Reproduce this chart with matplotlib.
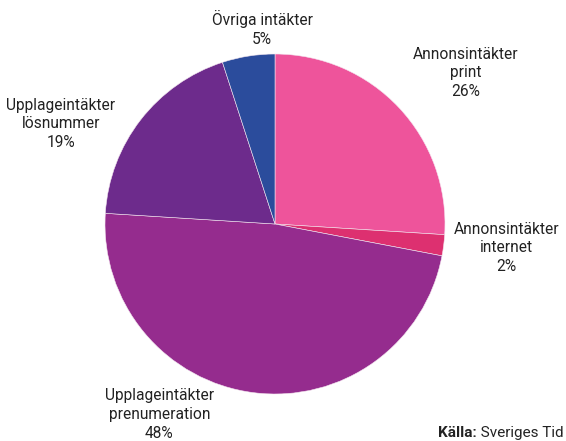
import matplotlib
matplotlib.use('Agg')
import matplotlib.pyplot as plt

# ---------------------- Data

labels = ['Annonsintäkter\nprint', 'Annonsintäkter\ninternet', 'Upplageintäkter\nprenumeration',
          'Upplageintäkter\nlösnummer', 'Övriga intäkter']
shares = [26, 2, 48, 19, 5]
colors = ['#EE549B', '#DD3070', '#952C8E', '#6D2B8C', '#2B4C9C']
source_bold = 'Källa:'
source_rest = ' Sveriges Tid'

# label positions in pie units (radius 1)
label_pos = [(1.12, 0.89), (1.36, -0.14), (-0.68, -1.12), (-1.26, 0.59), (-0.076, 1.15)]

plt.rcParams['font.family'] = ['Roboto', 'DejaVu Sans']

W, H = 566, 441
fig = plt.figure(figsize=(W/100, H/100), dpi=100)
cx, cy, r = 275, 224, 170
ax = fig.add_axes([(cx - r)/W, (H - cy - r)/H, 2*r/W, 2*r/H])

ax.pie(shares, colors=colors, startangle=90, counterclock=False, radius=1,
       wedgeprops=dict(edgecolor='#f4e6f0', linewidth=0.4))
ax.set_xlim(-1, 1)
ax.set_ylim(-1, 1)
ax.set_aspect('equal')
ax.axis('off')

for lab, val, (x, y) in zip(labels, shares, label_pos):
    ax.text(x, y, lab + '\n' + str(val) + '%', ha='center', va='center',
            fontsize=11.2, color='#222222', linespacing=1.3, clip_on=False)

t1 = fig.text(438/W, 1 - 437/H, source_bold, fontsize=11, fontweight='bold',
              color='#222222', ha='left', va='baseline')
fig.canvas.draw()
bb = t1.get_window_extent()
fig.text(bb.x1/W, 1 - 437/H, source_rest, fontsize=11, color='#222222',
         ha='left', va='baseline')

plt.savefig('out.png', dpi=100)
